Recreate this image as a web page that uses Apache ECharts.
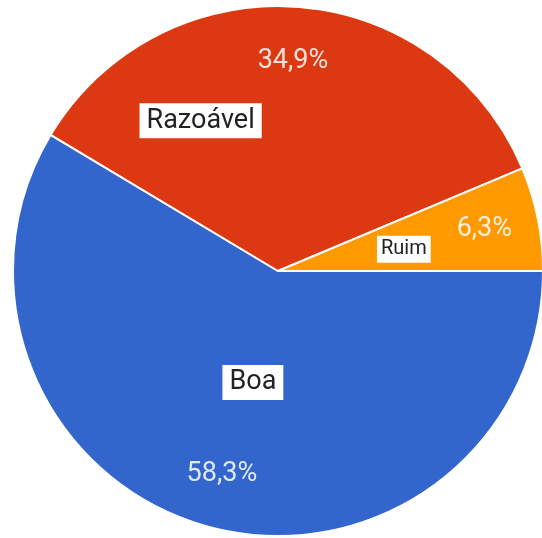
<!DOCTYPE html>
<html>
<head>
<meta charset="utf-8">
<script src="https://cdn.jsdelivr.net/npm/echarts@6/dist/echarts.min.js"></script>
<style>
  html, body { margin: 0; padding: 0; background: #fff; }
  #chart { width: 542px; height: 538px; }
</style>
</head>
<body>
<div id="chart"></div>
<script>
// respostas
const categories = ['Boa', 'Razoável', 'Ruim']
const values = [58.3, 34.9, 6.3]
const colors = ['#3366cc', '#dc3912', '#ff9900']

// where the name boxes sit relative to the slice middle
const nameOffsets = [[11, -19], [-87, -15], [-7, 5]]
const nameSizes = [27, 27, 20]

const fmt = v => v.toFixed(1).replace('.', ',') + '%'

const center = [278, 271]
const R = 265

const chart = echarts.init(document.getElementById('chart'))
chart.setOption({
  backgroundColor: '#fff',
  animation: false,
  series: [
    {
      type: 'pie',
      center: center,
      radius: [0, R],
      startAngle: 0,
      clockwise: true,
      silent: true,
      itemStyle: { borderColor: '#fff', borderWidth: 2 },
      label: {
        show: true,
        position: 'inside',
        formatter: '{b}',
        color: '#222',
        fontFamily: 'Roboto',
        backgroundColor: '#fff'
      },
      labelLine: { show: false },
      data: categories.map((c, i) => ({
        name: c,
        value: values[i],
        itemStyle: { color: colors[i] },
        label: {
          offset: nameOffsets[i],
          fontSize: nameSizes[i],
          lineHeight: i === 2 ? 24 : 32,
          padding: i === 2 ? [2, 4, 1, 4] : [2, 7, 1, 7]
        }
      }))
    },
    {
      type: 'pie',
      center: center,
      radius: [150, R],
      startAngle: 0,
      clockwise: true,
      silent: true,
      itemStyle: { color: 'transparent' },
      label: {
        show: true,
        position: 'inside',
        formatter: p => fmt(p.value),
        color: 'rgba(255,255,255,0.85)',
        fontFamily: 'Roboto',
        fontSize: 27
      },
      labelLine: { show: false },
      data: categories.map((c, i) => ({ name: c + ' %', value: values[i] }))
    }
  ]
})
</script>
</body>
</html>
